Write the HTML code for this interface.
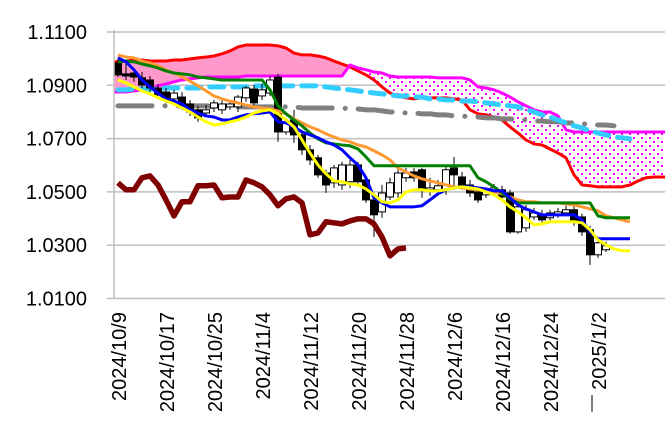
<!DOCTYPE html>
<html><head><meta charset="utf-8"><style>
html,body{margin:0;padding:0;background:#fff;}
svg{display:block;font-family:"Liberation Sans",sans-serif;}
</style></head><body>
<svg id="chart" width="666" height="439" viewBox="0 0 666 439">
<defs>
<pattern id="dots" width="8" height="8" patternUnits="userSpaceOnUse">
<rect width="8" height="8" fill="#fff"/>
<rect x="1" y="1" width="2" height="2" fill="#ff00ff"/>
<rect x="5" y="5" width="2" height="2" fill="#ff00ff"/>
</pattern>
</defs>
<g id="grid"></g>
<g id="cloud"></g>
<g id="lines"></g>
<g id="axes"></g>
</svg>
<script>
const yTicks = [1.11, 1.09, 1.07, 1.05, 1.03, 1.01];
const xLabels = ["2024/10/9","2024/10/17","2024/10/25","2024/11/4","2024/11/12","2024/11/20","2024/11/28","2024/12/6","2024/12/16","2024/12/24","2025/1/2"];
const spanA = [1.0988,1.0991,1.0995,1.0995,1.0991,1.0991,1.0991,1.0995,1.0995,1.0999,1.1003,1.1006,1.1010,1.1018,1.1029,1.1044,1.1051,1.1051,1.1051,1.1051,1.1048,1.1040,1.1021,1.1014,1.1014,1.1010,1.1003,1.0991,1.0980,1.0969,1.0954,1.0939,1.0920,1.0894,1.0871,1.0860,1.0853,1.0849,1.0853,1.0853,1.0853,1.0853,1.0849,1.0845,1.0808,1.0793,1.0789,1.0781,1.0770,1.0744,1.0721,1.0695,1.0680,1.0676,1.0661,1.0646,1.0628,1.0564,1.0526,1.0523,1.0519,1.0519,1.0519,1.0519,1.0526,1.0541,1.0553,1.0556,1.0556];
const spanB = [1.0875,1.0875,1.0879,1.0883,1.0890,1.0898,1.0905,1.0913,1.0920,1.0924,1.0928,1.0931,1.0931,1.0931,1.0931,1.0931,1.0935,1.0935,1.0935,1.0935,1.0935,1.0935,1.0935,1.0935,1.0935,1.0935,1.0935,1.0935,1.0935,1.0976,1.0965,1.0958,1.0950,1.0946,1.0935,1.0931,1.0931,1.0931,1.0931,1.0931,1.0928,1.0928,1.0928,1.0928,1.0920,1.0894,1.0890,1.0883,1.0871,1.0856,1.0838,1.0823,1.0808,1.0800,1.0800,1.0785,1.0733,1.0725,1.0725,1.0725,1.0725,1.0725,1.0725,1.0725,1.0725,1.0725,1.0725,1.0725,1.0725];
const cyanMA = [1.0883,1.0883,1.0886,1.0886,1.0886,1.0886,1.0890,1.0890,1.0890,1.0890,1.0890,1.0894,1.0894,1.0894,1.0894,1.0894,1.0894,1.0898,1.0898,1.0898,1.0898,1.0898,1.0898,1.0898,1.0898,1.0898,1.0894,1.0890,1.0886,1.0883,1.0879,1.0875,1.0871,1.0868,1.0864,1.0860,1.0860,1.0856,1.0856,1.0849,1.0849,1.0845,1.0845,1.0841,1.0841,1.0838,1.0834,1.0830,1.0826,1.0823,1.0819,1.0808,1.0800,1.0789,1.0781,1.0770,1.0759,1.0748,1.0740,1.0729,1.0721,1.0714,1.0706,1.0703,1.0699];
const greyMA = [1.0823,1.0823,1.0823,1.0823,1.0823,1.0823,1.0823,1.0823,1.0823,1.0823,1.0823,1.0823,1.0819,1.0819,1.0819,1.0819,1.0819,1.0819,1.0819,1.0819,1.0819,1.0819,1.0819,1.0815,1.0815,1.0815,1.0815,1.0815,1.0815,1.0811,1.0811,1.0808,1.0808,1.0804,1.0800,1.0800,1.0796,1.0796,1.0793,1.0793,1.0789,1.0789,1.0785,1.0785,1.0781,1.0781,1.0778,1.0778,1.0774,1.0774,1.0770,1.0770,1.0766,1.0766,1.0763,1.0763,1.0759,1.0759,1.0755,1.0755,1.0751,1.0751,1.0748];
const orangeMA = [1.1014,1.1006,1.1003,1.0991,1.0984,1.0973,1.0958,1.0946,1.0931,1.0916,1.0898,1.0879,1.0860,1.0849,1.0841,1.0834,1.0826,1.0819,1.0815,1.0811,1.0804,1.0793,1.0774,1.0759,1.0744,1.0733,1.0718,1.0706,1.0695,1.0688,1.0676,1.0669,1.0654,1.0639,1.0620,1.0590,1.0575,1.0560,1.0549,1.0541,1.0534,1.0526,1.0519,1.0515,1.0511,1.0508,1.0504,1.0500,1.0493,1.0481,1.0470,1.0463,1.0463,1.0459,1.0459,1.0459,1.0455,1.0451,1.0444,1.0436,1.0429,1.0410,1.0403,1.0395,1.0388];
const kijun = [1.0988,1.0991,1.0988,1.0980,1.0973,1.0965,1.0954,1.0946,1.0943,1.0939,1.0931,1.0928,1.0924,1.0920,1.0920,1.0920,1.0920,1.0920,1.0920,1.0883,1.0823,1.0793,1.0770,1.0748,1.0721,1.0699,1.0684,1.0680,1.0676,1.0673,1.0661,1.0631,1.0598,1.0598,1.0598,1.0598,1.0598,1.0598,1.0598,1.0598,1.0598,1.0598,1.0598,1.0598,1.0598,1.0553,1.0538,1.0519,1.0496,1.0474,1.0459,1.0459,1.0459,1.0459,1.0459,1.0459,1.0459,1.0459,1.0459,1.0459,1.0410,1.0403,1.0403,1.0403,1.0403];
const tenkan = [1.1003,1.0988,1.0958,1.0920,1.0894,1.0871,1.0849,1.0841,1.0830,1.0808,1.0796,1.0785,1.0781,1.0770,1.0770,1.0781,1.0789,1.0793,1.0796,1.0800,1.0763,1.0759,1.0744,1.0725,1.0714,1.0703,1.0688,1.0676,1.0658,1.0628,1.0601,1.0553,1.0478,1.0459,1.0444,1.0444,1.0444,1.0444,1.0448,1.0470,1.0493,1.0508,1.0515,1.0519,1.0519,1.0515,1.0511,1.0504,1.0504,1.0478,1.0451,1.0436,1.0425,1.0414,1.0414,1.0414,1.0414,1.0414,1.0395,1.0350,1.0324,1.0324,1.0324,1.0324,1.0324];
const yellowMA = [1.0920,1.0909,1.0894,1.0879,1.0868,1.0853,1.0841,1.0830,1.0815,1.0800,1.0781,1.0763,1.0751,1.0755,1.0763,1.0770,1.0781,1.0796,1.0804,1.0808,1.0793,1.0770,1.0744,1.0695,1.0646,1.0601,1.0568,1.0541,1.0538,1.0530,1.0526,1.0511,1.0489,1.0463,1.0459,1.0470,1.0500,1.0508,1.0508,1.0504,1.0504,1.0508,1.0515,1.0519,1.0515,1.0511,1.0500,1.0489,1.0470,1.0444,1.0425,1.0403,1.0376,1.0380,1.0388,1.0388,1.0388,1.0388,1.0384,1.0358,1.0320,1.0301,1.0286,1.0279,1.0279];
const chikou = [1.0534,1.0508,1.0508,1.0553,1.0560,1.0526,1.0470,1.0410,1.0463,1.0463,1.0523,1.0523,1.0526,1.0478,1.0481,1.0481,1.0545,1.0534,1.0519,1.0489,1.0448,1.0474,1.0481,1.0459,1.0339,1.0346,1.0388,1.0384,1.0380,1.0391,1.0399,1.0399,1.0380,1.0331,1.0260,1.0286,1.0290];
const opens  = [1.0984,1.0943,1.0946,1.0928,1.0920,1.0890,1.0875,1.0849,1.0856,1.0830,1.0808,1.0796,1.0815,1.0808,1.0819,1.0819,1.0853,1.0886,1.0860,1.0871,1.0931,1.0725,1.0770,1.0714,1.0658,1.0628,1.0571,1.0534,1.0526,1.0538,1.0601,1.0545,1.0470,1.0425,1.0481,1.0496,1.0553,1.0575,1.0583,1.0508,1.0508,1.0508,1.0590,1.0556,1.0526,1.0500,1.0489,1.0496,1.0508,1.0496,1.0350,1.0365,1.0406,1.0414,1.0403,1.0414,1.0421,1.0433,1.0406,1.0358,1.0264,1.0283];
const closes = [1.0939,1.0935,1.0931,1.0901,1.0890,1.0864,1.0845,1.0871,1.0819,1.0800,1.0778,1.0808,1.0834,1.0830,1.0830,1.0856,1.0890,1.0834,1.0883,1.0920,1.0725,1.0759,1.0714,1.0658,1.0620,1.0564,1.0526,1.0590,1.0601,1.0601,1.0538,1.0470,1.0414,1.0496,1.0534,1.0571,1.0571,1.0553,1.0508,1.0515,1.0523,1.0583,1.0564,1.0526,1.0496,1.0470,1.0500,1.0515,1.0481,1.0350,1.0444,1.0433,1.0421,1.0395,1.0421,1.0425,1.0433,1.0388,1.0350,1.0264,1.0309,1.0298];
const highs  = [1.1003,1.0988,1.0958,1.0950,1.0935,1.0905,1.0890,1.0883,1.0875,1.0845,1.0823,1.0826,1.0845,1.0845,1.0845,1.0864,1.0898,1.0901,1.0905,1.0935,1.0943,1.0778,1.0808,1.0733,1.0676,1.0639,1.0583,1.0601,1.0613,1.0620,1.0613,1.0560,1.0489,1.0526,1.0553,1.0583,1.0590,1.0590,1.0590,1.0553,1.0545,1.0601,1.0631,1.0575,1.0545,1.0515,1.0508,1.0530,1.0523,1.0508,1.0470,1.0451,1.0440,1.0433,1.0433,1.0440,1.0448,1.0448,1.0418,1.0373,1.0320,1.0313];
const lows   = [1.0931,1.0920,1.0913,1.0890,1.0875,1.0853,1.0834,1.0826,1.0808,1.0785,1.0763,1.0785,1.0800,1.0793,1.0808,1.0800,1.0838,1.0823,1.0845,1.0860,1.0688,1.0714,1.0684,1.0639,1.0601,1.0553,1.0496,1.0515,1.0508,1.0515,1.0523,1.0459,1.0331,1.0403,1.0470,1.0478,1.0538,1.0538,1.0478,1.0485,1.0485,1.0489,1.0508,1.0508,1.0481,1.0459,1.0478,1.0485,1.0470,1.0343,1.0343,1.0350,1.0395,1.0380,1.0388,1.0403,1.0410,1.0373,1.0335,1.0226,1.0253,1.0275];

const NS = "http://www.w3.org/2000/svg";
const X0 = 118, STEP = 8, PLOT_L = 114, PLOT_R = 665;
function xs(i){ return X0 + STEP * i; }
function ys(v){ return 32 + (1.11 - v) / 0.02 * 53.3; }
function mk(tag, attrs, parent){
  const el = document.createElementNS(NS, tag);
  for (const k in attrs) el.setAttribute(k, attrs[k]);
  parent.appendChild(el);
  return el;
}
const grid = document.getElementById('grid');
const cloud = document.getElementById('cloud');
const lines = document.getElementById('lines');
const axes = document.getElementById('axes');

yTicks.forEach(function(t){
  const gl = mk('line', {x1:107, x2:PLOT_R, y1:ys(t), y2:ys(t), stroke:'#bfbfbf', 'stroke-width':1.5}, grid);
  
  
  const tx = mk('text', {x:87, y:ys(t)+7, 'text-anchor':'end', 'font-size':20, fill:'#000'}, axes);
  tx.textContent = t.toFixed(4);
  
  
});
const yAxis = mk('line', {x1:PLOT_L, x2:PLOT_L, y1:30, y2:ys(1.01), stroke:'#bfbfbf', 'stroke-width':1.5}, axes);


xLabels.forEach(function(lab, k){
  const x = xs(k*6) + 1;
  const tx = mk('text', {x:0, y:0, 'text-anchor':'end', 'font-size':20, fill:'#000', transform:'translate('+(x+7)+',312) rotate(-90)'}, axes);
  tx.textContent = lab;
  
  
});
const lastTick = mk('line', {x1:xs(60)-6, x2:xs(60)-6, y1:395, y2:412, stroke:'#000', 'stroke-width':1}, axes);



function cx(i){ return i===0 ? PLOT_L : (i===spanA.length-1 ? PLOT_R : xs(i)); }
for (let i = 0; i < spanA.length - 1; i++){
  const a0=spanA[i], a1=spanA[i+1], b0=spanB[i], b1=spanB[i+1];
  const x0=cx(i), x1=cx(i+1);
  const pts = x0+','+ys(a0)+' '+x1+','+ys(a1)+' '+x1+','+ys(b1)+' '+x0+','+ys(b0);
  const up = (a0+a1) >= (b0+b1);
  const p = mk('polygon', {points:pts, fill: up ? '#ff99cc' : 'url(#dots)', stroke: up ? '#ff99cc' : 'none', 'stroke-width':0.5}, cloud);
  
  
}
function path(arr, style, name, xfn){
  let d = '';
  arr.forEach(function(v, i){ if (v == null) return; d += (d ? 'L' : 'M') + (xfn ? xfn(i) : xs(i)) + ',' + ys(v); });
  const p = mk('path', Object.assign({d:d, fill:'none', 'stroke-linejoin':'round'}, style), lines);
  
  
}
path(spanA, {stroke:'#ff0000', 'stroke-width':3}, 'senkou-span-a', cx);
path(spanB, {stroke:'#ff00ff', 'stroke-width':3}, 'senkou-span-b', cx);
path(greyMA, {stroke:'#808080', 'stroke-width':5, 'stroke-dasharray':'34 13 0.1 13', 'stroke-linecap':'round'}, 'grey-moving-average');
path(cyanMA, {stroke:'#33ccff', 'stroke-width':5, 'stroke-dasharray':'14 9', 'stroke-linecap':'round'}, 'cyan-moving-average');

opens.forEach(function(o, i){
  const c = closes[i]; if (o == null || c == null) return;
  const x = xs(i);
  const w = mk('line', {x1:x, x2:x, y1:ys(highs[i]), y2:ys(lows[i]), stroke:'#000', 'stroke-width':1}, lines);
  
  
  const top = ys(Math.max(o, c)), bot = ys(Math.min(o, c));
  const r = mk('rect', {x:x-3.5, y:top, width:7, height:Math.max(1, bot-top), fill: c < o ? '#000' : '#fff', stroke:'#000', 'stroke-width':1}, lines);
  
  
});
path(orangeMA, {stroke:'#ff9933', 'stroke-width':3}, 'orange-moving-average');
path(kijun, {stroke:'#008000', 'stroke-width':3}, 'kijun-sen');
path(tenkan, {stroke:'#0000ff', 'stroke-width':3}, 'tenkan-sen');
path(yellowMA, {stroke:'#ffff00', 'stroke-width':3}, 'yellow-moving-average');
path(chikou, {stroke:'#800000', 'stroke-width':5.5}, 'chikou-span');
</script>
</body></html>
